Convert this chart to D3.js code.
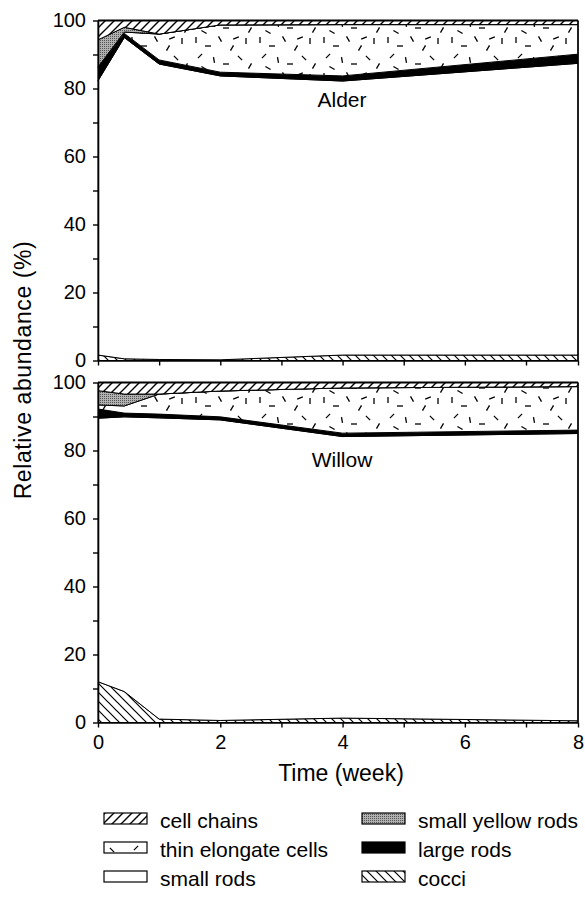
<!DOCTYPE html>
<html><head><meta charset="utf-8">
<script src="https://cdn.jsdelivr.net/npm/d3@7"></script>
<style>
body{margin:0;background:#fff;}
text{font-family:"Liberation Sans",Arial,Helvetica,sans-serif;fill:#000;}
</style></head><body>
<script>
// ---- data ----
const weeks = [0, 0.43, 1, 2, 4, 8];
const seriesKeys = ["cocci","smallRods","largeRods","thinElongate","smallYellow","cellChains"];
const seriesNames = {cellChains:"cell chains", thinElongate:"thin elongate cells", smallRods:"small rods",
  smallYellow:"small yellow rods", largeRods:"large rods", cocci:"cocci"};
// Alder
const alderCocci       = [1.6, 0.5, 0.3, 0.2, 1.6, 1.6];
const alderSmallRods   = [80.7, 94.5, 86.9, 83.5, 80.6, 85.8];
const alderLargeRods   = [4.0, 1.2, 1.2, 1.1, 1.5, 2.7];
const alderThin        = [0, 0.4, 7.6, 13.9, 15.1, 8.7];
const alderYellow      = [8.0, 1.4, 0, 0, 0, 0];
const alderChains      = [5.7, 2.0, 4.0, 1.3, 1.2, 1.2];
// Willow
const willowCocci      = [12.0, 9.1, 1.0, 0.6, 1.3, 0.5];
const willowSmallRods  = [77.5, 80.8, 88.6, 88.4, 82.8, 84.5];
const willowLargeRods  = [2.7, 1.1, 1.1, 0.9, 1.0, 1.0];
const willowThin       = [1.2, 2.1, 5.9, 7.6, 13.3, 12.8];
const willowYellow     = [4.2, 3.5, 0, 0, 0, 0];
const willowChains     = [2.4, 3.4, 3.4, 2.5, 1.6, 1.2];
const xTickValues = [0,1,2,3,4,5,6,7,8];
const yTickValues = [0,10,20,30,40,50,60,70,80,90,100];

function rows(c, s, l, t, y, ch){
  return weeks.map((w,i)=>({week:w, cocci:c[i], smallRods:s[i], largeRods:l[i], thinElongate:t[i], smallYellow:y[i], cellChains:ch[i]}));
}
const panels = [
  {name:"Alder", data:rows(alderCocci,alderSmallRods,alderLargeRods,alderThin,alderYellow,alderChains), top:20.5, bottom:360.5, labelY:107, xLabels:false},
  {name:"Willow", data:rows(willowCocci,willowSmallRods,willowLargeRods,willowThin,willowYellow,willowChains), top:382.5, bottom:722.5, labelY:467, xLabels:true}
];

const W=585,H=901;
const svg = d3.select("body").append("svg").attr("width",W).attr("height",H);
const defs = svg.append("defs");
// patterns
const pChains = defs.append("pattern").attr("id","pChains").attr("patternUnits","userSpaceOnUse").attr("width",9).attr("height",9);
pChains.append("rect").attr("width",9).attr("height",9).attr("fill","#fff");
pChains.append("path").attr("d","M-1,1 l2,-2 M0,9 l9,-9 M8,10 l2,-2").attr("stroke","#000").attr("stroke-width",1.4);
const pCocci = defs.append("pattern").attr("id","pCocci").attr("patternUnits","userSpaceOnUse").attr("width",9).attr("height",9);
pCocci.append("rect").attr("width",9).attr("height",9).attr("fill","#fff");
pCocci.append("path").attr("d","M-1,8 l2,2 M0,0 l9,9 M8,-1 l2,2").attr("stroke","#000").attr("stroke-width",1.2);
const pYellow = defs.append("pattern").attr("id","pYellow").attr("patternUnits","userSpaceOnUse").attr("width",2).attr("height",2);
pYellow.append("rect").attr("width",2).attr("height",2).attr("fill","#b0b0b0");
pYellow.append("rect").attr("width",1).attr("height",1).attr("fill","#555");
const pThin = defs.append("pattern").attr("id","pThin").attr("patternUnits","userSpaceOnUse").attr("width",64).attr("height",36);
pThin.append("rect").attr("width",64).attr("height",36).attr("fill","#fff");
const dashes = [[4,4,90],[16,10,0],[28,3,60],[40,12,120],[54,5,90],[8,20,135],[22,24,80],[34,28,0],[48,22,45],[58,30,120],[12,32,30],[44,2,160]];
dashes.forEach(([x,y,a])=>{
  const r=a*Math.PI/180, dx=Math.cos(r)*3, dy=Math.sin(r)*3;
  pThin.append("line").attr("x1",x-dx).attr("y1",y-dy).attr("x2",x+dx).attr("y2",y+dy).attr("stroke","#000").attr("stroke-width",1.3);
});
const fills = {cocci:"url(#pCocci)", smallRods:"#fff", largeRods:"#000", thinElongate:"url(#pThin)", smallYellow:"url(#pYellow)", cellChains:"url(#pChains)"};

const x = d3.scaleLinear().domain([0,7,8]).range([98,526,578]);
const stack = d3.stack().keys(seriesKeys);

panels.forEach(p=>{
  const y = d3.scaleLinear().domain([0,100]).range([p.bottom,p.top]);
  const layers = stack(p.data);
  const area = d3.area().x(d=>x(d.data.week)).y0(d=>y(d[0])).y1(d=>y(d[1]));
  const g = svg.append("g");
  g.selectAll("path.layer").data(layers).join("path").attr("class","layer")
    .attr("d",area).attr("fill",d=>fills[d.key]).attr("stroke","#000").attr("stroke-width",1).attr("stroke-linejoin","round");
  g.append("line").attr("x1",x(0)).attr("x2",x(8)).attr("y1",y(100)).attr("y2",y(100)).attr("stroke","#000").attr("stroke-width",1.8);
  g.append("line").attr("x1",x(8)).attr("x2",x(8)).attr("y1",y(100)).attr("y2",y(0)).attr("stroke","#000").attr("stroke-width",1.5);
  const ya = svg.append("g").attr("transform",`translate(${x(0)},0)`)
    .call(d3.axisLeft(y).tickValues(yTickValues).tickFormat(d=>d%20===0?d:"").tickSize(5).tickSizeOuter(0).tickPadding(7));
  const xa = svg.append("g").attr("transform",`translate(0,${y(0)})`)
    .call(d3.axisBottom(x).tickValues(xTickValues).tickFormat(d=>(p.xLabels && d%2===0)?d:"").tickSize(5).tickSizeOuter(0).tickPadding(7.5));
  [ya,xa].forEach(a=>{
    a.selectAll("path.domain").attr("stroke","#000").attr("stroke-width",1.6);
    a.selectAll(".tick line").attr("stroke","#000").attr("stroke-width",1.4);
    a.selectAll("text").attr("font-size",20).attr("font-family","Liberation Sans,Arial,sans-serif").attr("fill","#000");
  });
  svg.append("text").attr("x",342).attr("y",p.labelY).attr("text-anchor","middle").attr("font-size",21).text(p.name);
});

svg.append("text").attr("transform","translate(31,370) rotate(-90)").attr("text-anchor","middle").attr("font-size",23).attr("letter-spacing",0.6).text("Relative abundance (%)");
svg.append("text").attr("x",341).attr("y",781).attr("text-anchor","middle").attr("font-size",23).text("Time (week)");

// legend
const legendCols = [["cellChains","thinElongate","smallRods"],["smallYellow","largeRods","cocci"]];
const colX = [104,362];
const rowBase = [828,857,886];
legendCols.forEach((col,ci)=>{
  col.forEach((k,ri)=>{
    const lg = svg.append("g");
    lg.append("rect").attr("x",colX[ci]).attr("y",rowBase[ri]-15).attr("width",43).attr("height",11)
      .attr("fill",fills[k]).attr("stroke","#000").attr("stroke-width",1.2);
    lg.append("text").attr("x",colX[ci]+56).attr("y",rowBase[ri]).attr("font-size",21).text(seriesNames[k]);
  });
});
</script>
</body></html>
